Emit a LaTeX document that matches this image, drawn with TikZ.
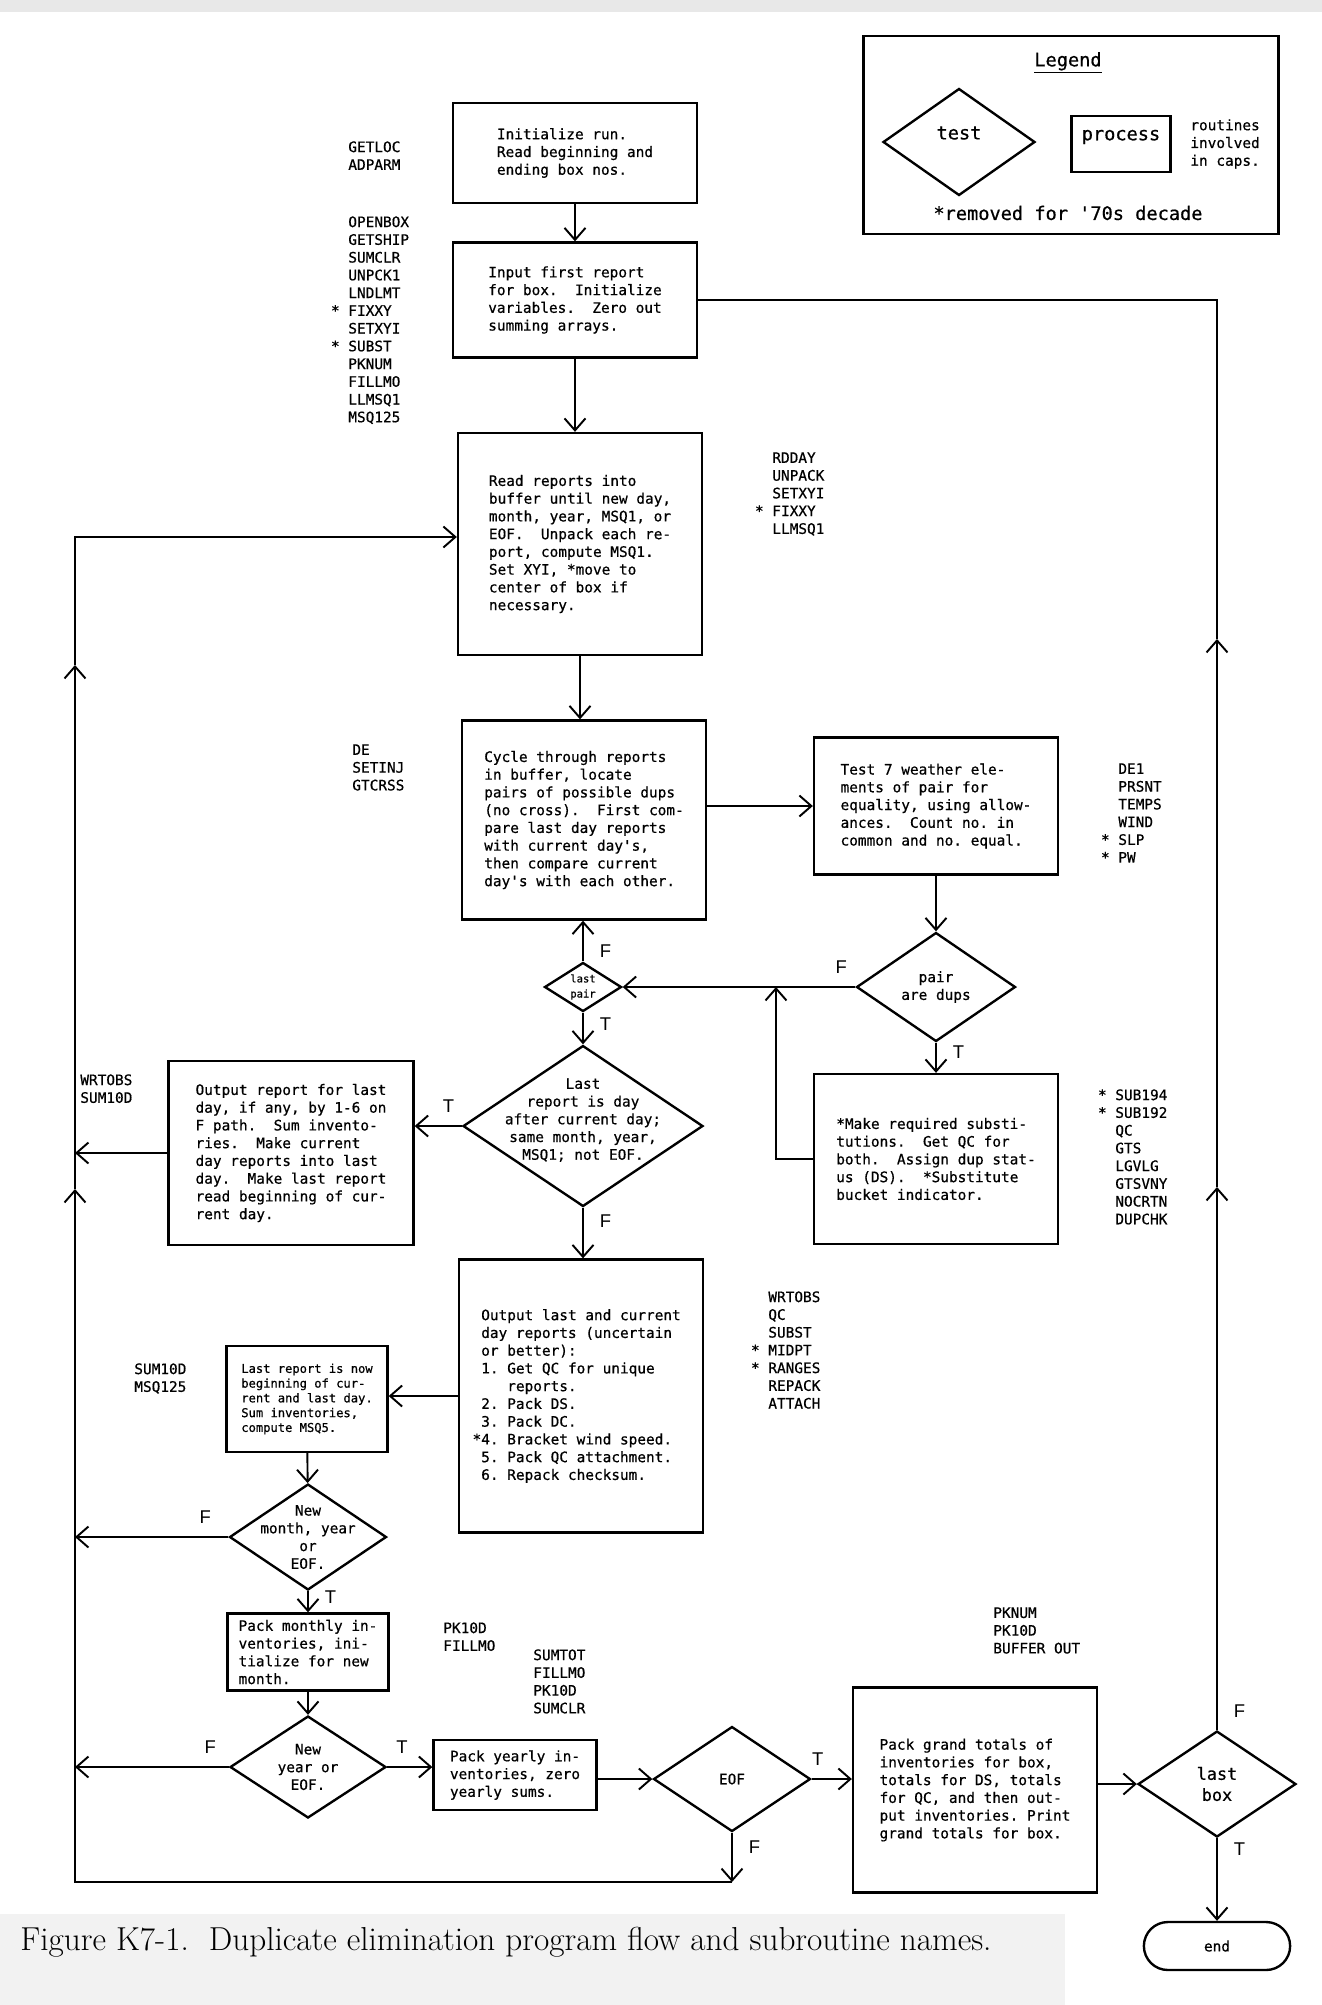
\documentclass[tikz,border=0pt]{standalone}
\usepackage{fontspec}
\setmonofont{DejaVu Sans Mono}[FakeBold=0.6]
\newfontfamily\labelsans{Liberation Sans}
\usetikzlibrary{arrows.meta,positioning,shapes.geometric,shapes.misc}
\newcommand{\boxfont}{\fontsize{8.2}{10.1}\selectfont\ttfamily\frenchspacing}
\newcommand{\smallboxfont}{\fontsize{6.9}{8.4}\selectfont\ttfamily\frenchspacing}
\newcommand{\tinyboxfont}{\fontsize{6}{8.6}\selectfont\ttfamily}
\newcommand{\legendfont}{\fontsize{10.6}{12.5}\selectfont\ttfamily}
\newcommand{\tffont}{\fontsize{10.5}{12}\selectfont\labelsans}
\newcommand{\captionfont}{\fontsize{18.9}{22}\selectfont\rmfamily}
\tikzset{
  box/.style={draw, line width=1.35pt, align=left, font=\boxfont, inner sep=0pt, minimum width=4.88cm},
  decision/.style={draw, diamond, line width=1.35pt, inner sep=0pt},
  dtext/.style={font=\boxfont, align=center},
  terminal/.style={draw, rounded rectangle, line width=1.35pt, font=\boxfont, minimum width=3.16cm, minimum height=0.96cm},
  routines/.style={align=left, font=\boxfont, inner sep=0pt, anchor=north west},
  arrow/.style={-{Straight Barb[length=2.4mm, width=4.2mm]}, line width=1.1pt},
  line/.style={line width=1.1pt},
  tf/.style={font=\tffont, inner sep=3pt}
}
\begin{document}
\begin{tikzpicture}[x=0.02cm, y=-0.02cm]
  \useasboundingbox (0,0) rectangle (1322,2005);
  \fill[gray!18] (0,0) rectangle (1322,12);
  \fill[gray!10] (0,1914) rectangle (1065,2005);

  % legend
  \node[box, minimum width=8.3cm, minimum height=3.96cm] (legend) at (1071,135) {};
  \node[font=\legendfont] (legtitle) at (1068,63) {\underline{Legend}};
  \node[decision, minimum width=3.04cm, minimum height=2.14cm, label={[font=\legendfont, yshift=0.18cm]center:test}] (legtest) at (959,142) {};
  \node[box, minimum width=1.98cm, minimum height=1.12cm, label={[font=\legendfont, yshift=0.14cm]center:process}] (legproc) at (1121,144) {};
  \node[routines, anchor=west] (legcaps) at (1190,144) {routines\\involved\\in caps.};
  \node[font=\legendfont] (legstar) at (1068,213) {*removed for '70s decade};

  % main column
  \node[box, minimum height=2.0cm] (init) at (575,153) {Initialize run.\\Read beginning and\\ending box nos.};
  \node[box, minimum height=2.3cm] (first) at (575,300) {Input first report\\for box.\ \ Initialize\\variables.\ \ Zero out\\summing arrays.};
  \node[box, minimum height=4.44cm] (read) at (580,544) {Read reports into\\buffer until new day,\\month, year, MSQ1, or\\EOF.\ \ Unpack each re-\\port, compute MSQ1.\\Set XYI, *move to\\center of box if\\necessary.};
  \node[box, minimum height=3.98cm] (cycle) at (584,820) {Cycle through reports\\in buffer, locate\\pairs of possible dups\\(no cross).\ \ First com-\\pare last day reports\\with current day's,\\then compare current\\day's with each other.};
  \node[box, minimum height=2.74cm] (test7) at (936,806) {Test 7 weather ele-\\ments of pair for\\equality, using allow-\\ances.\ \ Count no. in\\common and no. equal.};
  \node[decision, minimum width=3.18cm, minimum height=2.18cm, label={[dtext]center:{pair\\are dups}}] (dups) at (936,987) {};
  \node[box, minimum height=3.4cm] (subst) at (936,1159) {*Make required substi-\\tutions.\ \ Get QC for\\both.\ \ Assign dup stat-\\us (DS).\ \ *Substitute\\bucket indicator.};
  \node[decision, minimum width=1.54cm, minimum height=0.98cm, label={[font=\tinyboxfont, align=center]center:{last\\pair}}] (lastpair) at (583,987) {};
  \node[decision, minimum width=4.8cm, minimum height=3.22cm, label={[dtext, yshift=0.12cm]center:{Last\\report is day\\after current day;\\same month, year,\\MSQ1; not EOF.}}] (lastday) at (583,1126) {};
  \node[box, minimum width=4.9cm, minimum height=3.68cm] (outlast) at (291,1153) {Output report for last\\day, if any, by 1-6 on\\F path.\ \ Sum invento-\\ries.\ \ Make current\\day reports into last\\day.\ \ Make last report\\read beginning of cur-\\rent day.};
  \node[box, minimum height=5.46cm] (outcur) at (581,1396) {Output last and current\\day reports (uncertain\\or better):\\1. Get QC for unique\\\hphantom{1. }reports.\\2. Pack DS.\\3. Pack DC.\\\llap{*}4. Bracket wind speed.\\5. Pack QC attachment.\\6. Repack checksum.};

  % monthly / yearly column
  \node[box, font=\smallboxfont, minimum width=3.22cm, minimum height=2.12cm] (nowbeg) at (307,1399) {Last report is now\\beginning of cur-\\rent and last day.\\Sum inventories,\\compute MSQ5.};
  \node[decision, minimum width=3.14cm, minimum height=2.12cm, label={[dtext]center:{New\\month, year\\or\\EOF.}}] (newmonth) at (308,1537) {};
  \node[box, minimum width=3.22cm, minimum height=1.54cm] (packmon) at (308,1652) {Pack monthly in-\\ventories, ini-\\tialize for new\\month.};
  \node[decision, minimum width=3.12cm, minimum height=2.04cm, label={[dtext]center:{New\\year or\\EOF.}}] (newyear) at (308,1767) {};
  \node[box, minimum width=3.26cm, minimum height=1.4cm] (packyr) at (515,1775) {Pack yearly in-\\ventories, zero\\yearly sums.};
  \node[decision, minimum width=3.14cm, minimum height=2.1cm, label={[dtext]center:EOF}] (eof) at (732,1779) {};
  \node[box, minimum height=4.1cm] (grand) at (975,1790) {Pack grand totals of\\inventories for box,\\totals for DS, totals\\for QC, and then out-\\put inventories. Print\\grand totals for box.};
  \node[decision, minimum width=3.16cm, minimum height=2.12cm, label={[dtext, font=\fontsize{9.6}{12}\selectfont\ttfamily]center:{last\\box}}] (lastbox) at (1217,1784) {};
  \node[terminal] (end) at (1217,1946) {end};

  % routine names
  \node[routines] (rInit) at (348,141) {GETLOC\\ADPARM};
  \node[routines] (rFirst) at (348,216) {OPENBOX\\GETSHIP\\SUMCLR\\UNPCK1\\LNDLMT\\\llap{*\ }FIXXY\\SETXYI\\\llap{*\ }SUBST\\PKNUM\\FILLMO\\LLMSQ1\\MSQ125};
  \node[routines] (rRead) at (772,452) {RDDAY\\UNPACK\\SETXYI\\\llap{*\ }FIXXY\\LLMSQ1};
  \node[routines] (rCycle) at (352,744) {DE\\SETINJ\\GTCRSS};
  \node[routines] (rTest) at (1118,763) {DE1\\PRSNT\\TEMPS\\WIND\\\llap{*\ }SLP\\\llap{*\ }PW};
  \node[routines] (rOutlast) at (80,1074) {WRTOBS\\SUM10D};
  \node[routines] (rSubst) at (1115,1089) {\llap{*\ }SUB194\\\llap{*\ }SUB192\\QC\\GTS\\LGVLG\\GTSVNY\\NOCRTN\\DUPCHK};
  \node[routines] (rOutcur) at (768,1291) {WRTOBS\\QC\\SUBST\\\llap{*\ }MIDPT\\\llap{*\ }RANGES\\REPACK\\ATTACH};
  \node[routines] (rNowbeg) at (134,1363) {SUM10D\\MSQ125};
  \node[routines] (rPackmon) at (443,1622) {PK10D\\FILLMO};
  \node[routines] (rPackyr) at (533,1649) {SUMTOT\\FILLMO\\PK10D\\SUMCLR};
  \node[routines] (rGrand) at (993,1607) {PKNUM\\PK10D\\BUFFER OUT};

  % loop points
  \coordinate (loopBR) at (732,1882);
  \coordinate (loopBL) at (75,1882);
  \coordinate (markL1) at (75,1189);
  \coordinate (markL2) at (75,665);
  \coordinate (loopTL) at (75,537);
  \coordinate (markR1) at (1217,1187);
  \coordinate (markR2) at (1217,639);
  \coordinate (loopTR) at (1217,300);
  \coordinate (join) at (776,987);

  \draw[arrow] (init) -- (first);
  \draw[arrow] (first.south) -- (first.south |- read.north);
  \draw[arrow] (read.south) -- (read.south |- cycle.north);
  \draw[arrow] (cycle.east |- test7.west) -- (test7.west);
  \draw[arrow] (test7.south) -- (dups.north);
  \draw[arrow] (dups.west) -- node[tf, pos=0.06, above=4pt]{F} (lastpair.east);
  \draw[arrow] (dups.south) -- node[tf, pos=0.3, right=6pt]{T} (subst.north);
  \draw[arrow] (subst.west) -| (join);
  \draw[arrow] (lastpair.north) -- node[tf, pos=0.26, right=6pt]{F} (lastpair.north |- cycle.south);
  \draw[arrow] (lastpair.south) -- node[tf, pos=0.35, right=6pt]{T} (lastday.north);
  \draw[arrow] (lastday.west) -- node[tf, pos=0.28, above=4pt]{T} (lastday.west -| outlast.east);
  \draw[arrow] (lastday.south) -- node[tf, pos=0.27, right=6pt]{F} (lastday.south |- outcur.north);
  \draw[arrow] (outlast.west) -- (outlast.west -| loopBL);
  \draw[arrow] (outcur.west) -- (outcur.west -| nowbeg.east);
  \draw[arrow] (nowbeg) -- (newmonth);
  \draw[arrow] (newmonth.west) -- node[tf, pos=0.15, above=4pt]{F} (newmonth.west -| loopBL);
  \draw[arrow] (newmonth.south) -- node[tf, pos=0.3, right=6pt]{T} (packmon.north);
  \draw[arrow] (packmon) -- (newyear);
  \draw[arrow] (newyear.west) -- node[tf, pos=0.12, above=4pt]{F} (newyear.west -| loopBL);
  \draw[arrow] (newyear.east) -- node[tf, pos=0.33, above=4pt]{T} (newyear.east -| packyr.west);
  \draw[arrow] (packyr.east |- eof.west) -- (eof.west);
  \draw[arrow] (eof.east) -- node[tf, pos=0.15, above=4pt]{T} (eof.east -| grand.west);
  \draw[arrow] (eof.south) -- node[tf, pos=0.3, right=6pt]{F} (loopBR);
  \draw[arrow] (grand.east |- lastbox.west) -- (lastbox.west);
  \draw[arrow] (lastbox.south) -- node[tf, pos=0.13, right=6pt]{T} (end.north);

  % return loops
  \draw[arrow] (loopBR) -- (loopBL) -- (markL1);
  \draw[arrow] (markL1) -- (markL2);
  \draw[arrow] (markL2) -- (loopTL) -- (loopTL -| read.west);
  \draw[arrow] (lastbox.north) -- node[tf, pos=0.035, right=6pt]{F} (markR1);
  \draw[arrow] (markR1) -- (markR2);
  \draw[line] (markR2) -- (loopTR) -- (first.east);

  \node[font=\captionfont, anchor=west, inner sep=0pt] (caption) at (20,1942) {Figure K7-1.\ \ Duplicate elimination program flow and subroutine names.};
\end{tikzpicture}
\end{document}
